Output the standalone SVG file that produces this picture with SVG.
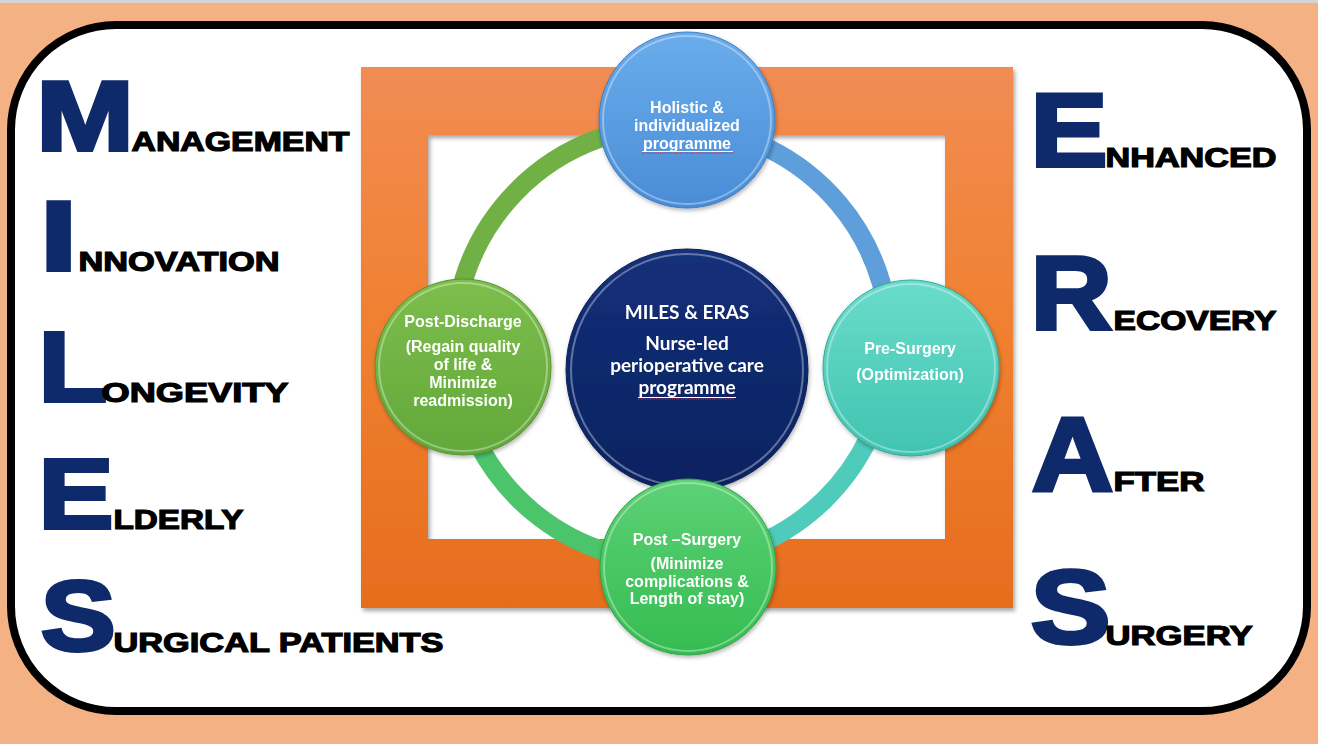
<svg xmlns="http://www.w3.org/2000/svg" width="1318" height="744" viewBox="0 0 1318 744">
<defs>
<style>
.big{font-family:"Liberation Sans",Arial,sans-serif;font-weight:bold;fill:#0E2A6A;stroke:#0E2A6A;stroke-width:4;stroke-linejoin:miter}
.word{font-family:"Liberation Sans",Arial,sans-serif;font-weight:bold;font-size:27px;fill:#000;stroke:#000;stroke-width:1.2;stroke-linejoin:miter}
.nt{font-family:"Liberation Sans",Arial,sans-serif;font-weight:bold;font-size:16px;fill:#fff;text-anchor:middle}
.ct{font-family:Lato,"Liberation Sans",sans-serif;font-weight:bold;font-size:19px;fill:#fff;text-anchor:middle}
.ring{fill:none;stroke-width:19}
.rim{fill:none;stroke:#fff;stroke-opacity:.35;stroke-width:2}
.squig{fill:none;stroke:#E02020;stroke-width:1;stroke-dasharray:1.5 1}
</style>
<linearGradient id="gOr" x1="0" y1="0" x2="0" y2="1">
<stop offset="0" stop-color="#F18C54"/><stop offset="0.5" stop-color="#F0802F"/><stop offset="1" stop-color="#E66D1E"/>
</linearGradient>
<linearGradient id="gTop" x1="0" y1="0" x2="0" y2="1"><stop offset="0" stop-color="#6AADEC"/><stop offset="1" stop-color="#4A8CD6"/></linearGradient>
<linearGradient id="gRight" x1="0" y1="0" x2="0" y2="1"><stop offset="0" stop-color="#6ADCCB"/><stop offset="1" stop-color="#41C3B1"/></linearGradient>
<linearGradient id="gBot" x1="0" y1="0" x2="0" y2="1"><stop offset="0" stop-color="#5DD176"/><stop offset="1" stop-color="#34BC50"/></linearGradient>
<linearGradient id="gLeft" x1="0" y1="0" x2="0" y2="1"><stop offset="0" stop-color="#7DBE4C"/><stop offset="1" stop-color="#62A83A"/></linearGradient>
<linearGradient id="gCen" x1="0" y1="0" x2="0" y2="1"><stop offset="0" stop-color="#14307A"/><stop offset="1" stop-color="#0A2260"/></linearGradient>
<filter id="sh" x="-10%" y="-10%" width="120%" height="120%">
<feDropShadow dx="2" dy="3" stdDeviation="2" flood-color="#000" flood-opacity="0.35"/>
</filter>
<filter id="nsh" x="-10%" y="-10%" width="120%" height="120%">
<feDropShadow dx="1" dy="2" stdDeviation="2" flood-color="#000" flood-opacity="0.3"/>
</filter>
</defs>

<rect x="0" y="0" width="1318" height="744" fill="#F4B183"/>
<rect x="0" y="0" width="1318" height="3" fill="#D4D4D4"/>
<rect x="11" y="25" width="1296" height="686" rx="105" ry="105" fill="#fff" stroke="#000" stroke-width="8"/>

<g id="frame">
<path d="M361,67 H1013 V608 H361 Z M428,135 V539 H945 V135 Z" fill="url(#gOr)" fill-rule="evenodd" filter="url(#sh)"/>
</g>

<g id="miles">
<text class="big" font-size="98" transform="translate(36.6,150) scale(1.19,1)">M</text>
<text class="word" x="131.5" y="151" textLength="218" lengthAdjust="spacingAndGlyphs">ANAGEMENT</text>
<text class="big" font-size="98" transform="translate(40.2,270) scale(1.35,1)">I</text>
<text class="word" x="78.5" y="271" textLength="201" lengthAdjust="spacingAndGlyphs">NNOVATION</text>
<text class="big" font-size="98" transform="translate(38.8,401) scale(1.14,1)">L</text>
<text class="word" x="101.5" y="402" textLength="187" lengthAdjust="spacingAndGlyphs">ONGEVITY</text>
<text class="big" font-size="98" transform="translate(38.8,528) scale(1.14,1)">E</text>
<text class="word" x="113.5" y="529" textLength="130" lengthAdjust="spacingAndGlyphs">LDERLY</text>
<text class="big" font-size="98" transform="translate(41.1,650) scale(1.14,1)">S</text>
<text class="word" x="113.5" y="652" textLength="330" lengthAdjust="spacingAndGlyphs">URGICAL PATIENTS</text>
</g>

<g id="eras">
<text class="big" font-size="103" transform="translate(1030.6,166) scale(1.12,1)">E</text>
<text class="word" x="1105.5" y="167" textLength="171" lengthAdjust="spacingAndGlyphs">NHANCED</text>
<text class="big" font-size="103" transform="translate(1030.8,329) scale(1.09,1)">R</text>
<text class="word" x="1113.5" y="330" textLength="163" lengthAdjust="spacingAndGlyphs">ECOVERY</text>
<text class="big" font-size="103" transform="translate(1032,490) scale(1.09,1)">A</text>
<text class="word" x="1113.5" y="491" textLength="91" lengthAdjust="spacingAndGlyphs">FTER</text>
<text class="big" font-size="103" transform="translate(1030.8,643) scale(1.16,1)">S</text>
<text class="word" x="1105.5" y="645" textLength="147" lengthAdjust="spacingAndGlyphs">URGERY</text>
</g>

<g id="connectors">
<path class="ring" stroke="#71B044" d="M455.2,366.8 A218,218 0 0 1 687.2,126.5"/>
<path class="ring" stroke="#5E9FDB" d="M687.2,126.5 A218,218 0 0 1 888.9,365.6"/>
<path class="ring" stroke="#4FCBBC" d="M888.9,365.6 A218,218 0 0 1 687.2,561.5"/>
<path class="ring" stroke="#4BC46C" d="M687.2,561.5 A218,218 0 0 1 455.2,366.8"/>
</g>

<g id="center" filter="url(#nsh)">
<circle cx="687" cy="370" r="121" fill="url(#gCen)" stroke="#0A1F55" stroke-width="1"/>
<circle class="rim" cx="687" cy="370" r="116" stroke-opacity=".15"/>
<text class="ct" x="687" y="319">MILES &amp; ERAS</text>
<text class="ct" x="687" y="350">Nurse-led</text>
<text class="ct" x="687" y="372">perioperative care</text>
<text class="ct" x="687" y="394">programme</text>
<line x1="638" y1="397.5" x2="736" y2="397.5" stroke="#fff" stroke-width="1.2"/>
<path class="squig" d="M638,399.5 l2,-1 l2,1 l2,-1 l2,1 l2,-1 l2,1 l2,-1 l2,1 l2,-1 l2,1 l2,-1 l2,1 l2,-1 l2,1 l2,-1 l2,1 l2,-1 l2,1 l2,-1 l2,1 l2,-1 l2,1 l2,-1 l2,1 l2,-1 l2,1 l2,-1 l2,1 l2,-1 l2,1 l2,-1 l2,1 l2,-1 l2,1 l2,-1 l2,1 l2,-1 l2,1 l2,-1 l2,1 l2,-1 l2,1 l2,-1 l2,1 l2,-1 l2,1 l2,-1 l2,1"/>
</g>

<g id="node-top" filter="url(#nsh)">
<circle cx="687" cy="120" r="88" fill="url(#gTop)" stroke="#3F7CC0" stroke-width="1"/>
<circle class="rim" cx="687" cy="120" r="84" stroke="#A8DAF8" stroke-opacity=".8" stroke-width="2.5"/>
<text class="nt" x="687" y="113">Holistic &amp;</text>
<text class="nt" x="687" y="131">individualized</text>
<text class="nt" x="687" y="149">programme</text>
<line x1="642" y1="151.5" x2="733" y2="151.5" stroke="#fff" stroke-width="1.2"/>
<path class="squig" d="M642,153.5 l2,-1 l2,1 l2,-1 l2,1 l2,-1 l2,1 l2,-1 l2,1 l2,-1 l2,1 l2,-1 l2,1 l2,-1 l2,1 l2,-1 l2,1 l2,-1 l2,1 l2,-1 l2,1 l2,-1 l2,1 l2,-1 l2,1 l2,-1 l2,1 l2,-1 l2,1 l2,-1 l2,1 l2,-1 l2,1 l2,-1 l2,1 l2,-1 l2,1 l2,-1 l2,1 l2,-1 l2,1 l2,-1 l2,1 l2,-1 l2,1 l2,-1 l2,1"/>
</g>

<g id="node-right" filter="url(#nsh)">
<circle cx="911" cy="368" r="88" fill="url(#gRight)" stroke="#35A898" stroke-width="1"/>
<circle class="rim" cx="911" cy="368" r="84" stroke="#A5F0E4" stroke-opacity=".7" stroke-width="2.5"/>
<text class="nt" x="910" y="354">Pre-Surgery</text>
<text class="nt" x="910" y="380">(Optimization)</text>
</g>

<g id="node-bottom" filter="url(#nsh)">
<circle cx="688" cy="567" r="88" fill="url(#gBot)" stroke="#2EA347" stroke-width="1"/>
<circle class="rim" cx="688" cy="567" r="84" stroke="#A8EDB5" stroke-opacity=".7" stroke-width="2.5"/>
<text class="nt" x="687" y="545">Post –Surgery</text>
<text class="nt" x="687" y="569">(Minimize</text>
<text class="nt" x="687" y="587">complications &amp;</text>
<text class="nt" x="687" y="604">Length of stay)</text>
</g>

<g id="node-left" filter="url(#nsh)">
<circle cx="463" cy="367" r="88" fill="url(#gLeft)" stroke="#57932F" stroke-width="1"/>
<circle class="rim" cx="463" cy="367" r="84" stroke="#C2E8A0" stroke-opacity=".7" stroke-width="2.5"/>
<text class="nt" x="463" y="327">Post-Discharge</text>
<text class="nt" x="463" y="352">(Regain quality</text>
<text class="nt" x="463" y="370">of life &amp;</text>
<text class="nt" x="463" y="388">Minimize</text>
<text class="nt" x="463" y="406">readmission)</text>
</g>
</svg>
